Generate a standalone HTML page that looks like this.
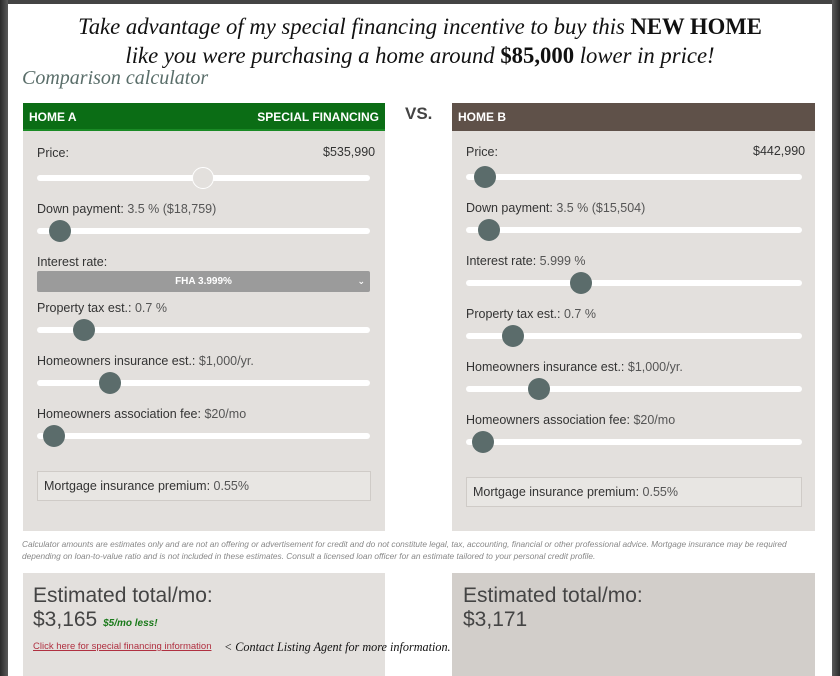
<!DOCTYPE html>
<html><head><style>
*{margin:0;padding:0;box-sizing:border-box}
body{width:840px;height:676px;overflow:hidden;background:#fff;position:relative;font-family:"Liberation Sans","DejaVu Sans",sans-serif;color:#333}
.a{position:absolute}
.edgeL{left:0;top:0;width:8px;height:676px;background:linear-gradient(90deg,#2a2a2a,#5a5a5a)}
.edgeR{right:0;top:0;width:8px;height:676px;background:linear-gradient(90deg,#5a5a5a,#2a2a2a)}
.edgeT{left:0;top:0;width:840px;height:4px;background:#444}
.title{left:0;width:840px;text-align:center;font-family:"Liberation Serif",serif;font-style:italic;font-size:22.7px;color:#111;line-height:29px}
.panel{background:#e3e0dd}
.hdr{color:#fff;font-weight:bold;font-size:12px;padding:0 6px;line-height:28px;height:28px}
.lbl{font-size:12.5px;color:#333;white-space:nowrap}
.lbl span{color:#555}
.track{height:6px;background:#fff;border-radius:3px}
.knob{width:22px;height:22px;border-radius:50%;background:#5b6c6b}
.box{border:1px solid #cfcbc7;background:#e8e6e3;font-size:12.5px;padding-left:6px;line-height:28px}
</style></head><body>
<div class="a edgeT"></div><div class="a edgeL"></div><div class="a edgeR"></div>
<div class="a title" style="top:12px">Take advantage of my special financing incentive to buy this <b style="font-style:normal;font-weight:bold">NEW HOME</b></div>
<div class="a title" style="top:41px">like you were purchasing a home around <b style="font-style:normal">$85,000</b> lower in price!</div>
<div class="a" style="left:22px;top:67px;font-family:'Liberation Serif',serif;font-style:italic;font-size:20px;color:#5a6e6a">Comparison calculator</div>

<div class="a panel" style="left:23px;top:103px;width:362px;height:428px"></div>
<div class="a hdr" style="left:23px;top:103px;width:362px;background:#0b6d15;border-bottom:2px solid #1a8a25">HOME A<span style="float:right">SPECIAL FINANCING</span></div>
<div class="a" style="left:405px;top:104px;font-weight:bold;font-size:17px;color:#444">VS.</div>
<div class="a panel" style="left:452px;top:103px;width:363px;height:428px"></div>
<div class="a hdr" style="left:452px;top:103px;width:363px;background:#5f5149">HOME B</div>

<!-- Home A -->
<div class="a lbl" style="left:37px;top:146px">Price:</div>
<div class="a lbl" style="left:323px;top:145px">$535,990</div>
<div class="a track" style="left:37px;top:175px;width:333px"></div>
<div class="a knob" style="left:192px;top:167px;background:#e3e0dd;border:1px solid #fff"></div>
<div class="a lbl" style="left:37px;top:202px">Down payment: <span>3.5 % ($18,759)</span></div>
<div class="a track" style="left:37px;top:228px;width:333px"></div>
<div class="a knob" style="left:49px;top:220px"></div>
<div class="a lbl" style="left:37px;top:255px">Interest rate:</div>
<div class="a" style="left:37px;top:271px;width:333px;height:21px;background:#9b9b9b;border-radius:2px;color:#fff;font-weight:bold;font-size:10px;text-align:center;line-height:21px">FHA 3.999%<span style="position:absolute;right:5px;font-size:9px">⌄</span></div>
<div class="a lbl" style="left:37px;top:301px">Property tax est.: <span>0.7 %</span></div>
<div class="a track" style="left:37px;top:327px;width:333px"></div>
<div class="a knob" style="left:73px;top:319px"></div>
<div class="a lbl" style="left:37px;top:354px">Homeowners insurance est.: <span>$1,000/yr.</span></div>
<div class="a track" style="left:37px;top:380px;width:333px"></div>
<div class="a knob" style="left:99px;top:372px"></div>
<div class="a lbl" style="left:37px;top:407px">Homeowners association fee: <span>$20/mo</span></div>
<div class="a track" style="left:37px;top:433px;width:333px"></div>
<div class="a knob" style="left:43px;top:425px"></div>
<div class="a box" style="left:37px;top:471px;width:334px;height:30px">Mortgage insurance premium: <span style="color:#555">0.55%</span></div>

<!-- Home B -->
<div class="a lbl" style="left:466px;top:145px">Price:</div>
<div class="a lbl" style="left:753px;top:144px">$442,990</div>
<div class="a track" style="left:466px;top:174px;width:336px"></div>
<div class="a knob" style="left:474px;top:166px"></div>
<div class="a lbl" style="left:466px;top:201px">Down payment: <span>3.5 % ($15,504)</span></div>
<div class="a track" style="left:466px;top:227px;width:336px"></div>
<div class="a knob" style="left:478px;top:219px"></div>
<div class="a lbl" style="left:466px;top:254px">Interest rate: <span>5.999 %</span></div>
<div class="a track" style="left:466px;top:280px;width:336px"></div>
<div class="a knob" style="left:570px;top:272px"></div>
<div class="a lbl" style="left:466px;top:307px">Property tax est.: <span>0.7 %</span></div>
<div class="a track" style="left:466px;top:333px;width:336px"></div>
<div class="a knob" style="left:502px;top:325px"></div>
<div class="a lbl" style="left:466px;top:360px">Homeowners insurance est.: <span>$1,000/yr.</span></div>
<div class="a track" style="left:466px;top:386px;width:336px"></div>
<div class="a knob" style="left:528px;top:378px"></div>
<div class="a lbl" style="left:466px;top:413px">Homeowners association fee: <span>$20/mo</span></div>
<div class="a track" style="left:466px;top:439px;width:336px"></div>
<div class="a knob" style="left:472px;top:431px"></div>
<div class="a box" style="left:466px;top:477px;width:336px;height:30px">Mortgage insurance premium: <span style="color:#555">0.55%</span></div>

<div class="a" style="left:22px;top:538px;width:800px;font-size:8.3px;font-style:italic;color:#888;line-height:12px">Calculator amounts are estimates only and are not an offering or advertisement for credit and do not constitute legal, tax, accounting, financial or other professional advice. Mortgage insurance may be required depending on loan-to-value ratio and is not included in these estimates. Consult a licensed loan officer for an estimate tailored to your personal credit profile.</div>

<div class="a" style="left:23px;top:573px;width:362px;height:103px;background:#e3e0dd"></div>
<div class="a" style="left:452px;top:573px;width:363px;height:103px;background:#d2ceca"></div>
<div class="a" style="left:33px;top:584px;font-size:21px;color:#444">Estimated total/mo:</div>
<div class="a" style="left:33px;top:608px;font-size:21px;color:#444">$3,165 <span style="font-size:10px;font-weight:bold;font-style:italic;color:#1a7a1a">$5/mo less!</span></div>
<div class="a" style="left:33px;top:641px;font-size:9.5px;color:#b03040;text-decoration:underline">Click here for special financing information</div>
<div class="a" style="left:224px;top:640px;font-family:'Liberation Serif',serif;font-style:italic;font-size:12.2px;color:#111">&lt; Contact Listing Agent for more information.</div>
<div class="a" style="left:463px;top:584px;font-size:21px;color:#444">Estimated total/mo:</div>
<div class="a" style="left:463px;top:608px;font-size:21px;color:#444">$3,171</div>
</body></html>
